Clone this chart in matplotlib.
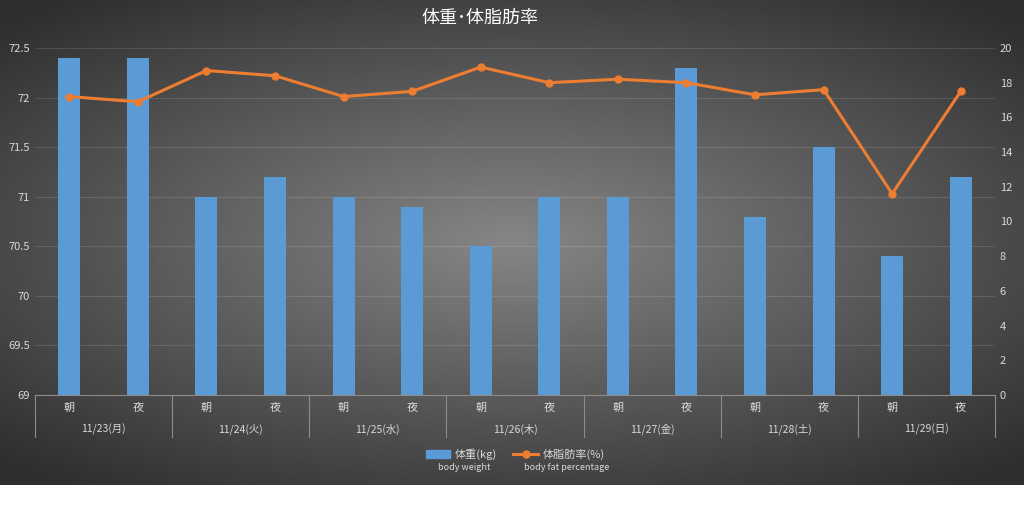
import numpy as np
import matplotlib
matplotlib.use("Agg")
import matplotlib.pyplot as plt
from matplotlib.lines import Line2D
from matplotlib.patches import Patch

plt.rcParams["font.family"] = ["Noto Sans CJK JP", "DejaVu Sans"]

# data
days = ["11/23(月)", "11/24(火)", "11/25(水)", "11/26(木)", "11/27(金)", "11/28(土)", "11/29(日)"]
times = ["朝", "夜"]
weight = [72.4, 72.4, 71.0, 71.2, 71.0, 70.9, 70.5, 71.0, 71.0, 72.3, 70.8, 71.5, 70.4, 71.2]
fat = [17.2, 16.9, 18.7, 18.4, 17.2, 17.5, 18.9, 18.0, 18.2, 18.0, 17.3, 17.6, 11.6, 17.5]

fig = plt.figure(figsize=(10.24, 5.2), dpi=100)
fig.patch.set_facecolor("white")

# dark background, lighter in the middle
bg = fig.add_axes([0, 35 / 520, 1, 485 / 520])
yy, xx = np.mgrid[-1:1:200j, -1:1:400j]
r = np.clip(np.sqrt(xx ** 2 + (yy / 0.9) ** 2) / 1.4, 0, 1)
bg.imshow(1 - r, cmap="gray", vmin=-0.55, vmax=2.4, aspect="auto", extent=[0, 1, 0, 1])
bg.axis("off")

ax = fig.add_axes([35 / 1024, 125 / 520, 960 / 1024, 347 / 520])
ax.patch.set_alpha(0)
x = np.arange(len(weight))
ax.bar(x, [w - 69 for w in weight], bottom=69, width=0.32, color="#5b9bd5", zorder=2)
ax.set_xlim(-0.5, len(weight) - 0.5)
ax.set_ylim(69, 72.5)
ax.set_yticks(np.arange(69, 72.51, 0.5))
ax.set_yticklabels(["69", "69.5", "70", "70.5", "71", "71.5", "72", "72.5"])
ax.grid(axis="y", color="#ffffff", alpha=0.12, linewidth=0.8, zorder=0)
ax.tick_params(colors="#d9d9d9", labelsize=8, length=0)
for s in ["top", "left", "right"]:
    ax.spines[s].set_visible(False)
ax.spines["bottom"].set_color("#8c8c8c")
ax.set_xticks([])

ax2 = ax.twinx()
ax2.plot(x, fat, color="#ed7d31", linewidth=2.2, marker="o", markersize=5, zorder=3)
ax2.set_ylim(0, 20)
ax2.set_yticks(range(0, 21, 2))
ax2.tick_params(colors="#d9d9d9", labelsize=8, length=0)
for s in ax2.spines.values():
    s.set_visible(False)

# two-level category axis
tr = ax.get_xaxis_transform()
for i in x:
    ax.text(i, -0.037, times[i % 2], transform=tr, ha="center", va="center",
            color="#d9d9d9", fontsize=8)
for d, name in enumerate(days):
    ax.text(2 * d + 0.5, -0.10, name, transform=tr, ha="center", va="center",
            color="#d9d9d9", fontsize=7.5)
for b in np.arange(-0.5, len(weight), 2):
    ax.add_line(Line2D([b, b], [0, -0.121], transform=tr, color="#8c8c8c",
                       linewidth=0.8, clip_on=False))

fig.text(480 / 1024, 1 - 18 / 520, "体重･体脂肪率", color="white", fontsize=13,
         ha="center", va="center")

handles = [Patch(color="#5b9bd5"),
           Line2D([0], [0], color="#ed7d31", linewidth=2.2, marker="o", markersize=5)]
leg = fig.legend(handles, ["体重(kg)", "体脂肪率(%)"], loc="center",
                 bbox_to_anchor=(515 / 1024, 1 - 454 / 520), ncol=2, frameon=False,
                 fontsize=8, labelcolor="#d9d9d9", handlelength=2.2, columnspacing=1.5,
                 handletextpad=0.4)
fig.text(438 / 1024, 1 - 467 / 520, "body weight", color="#d9d9d9", fontsize=6.5, va="center")
fig.text(524 / 1024, 1 - 467 / 520, "body fat percentage", color="#d9d9d9", fontsize=6.5, va="center")

fig.savefig("out.png", dpi=100, facecolor=fig.get_facecolor())
